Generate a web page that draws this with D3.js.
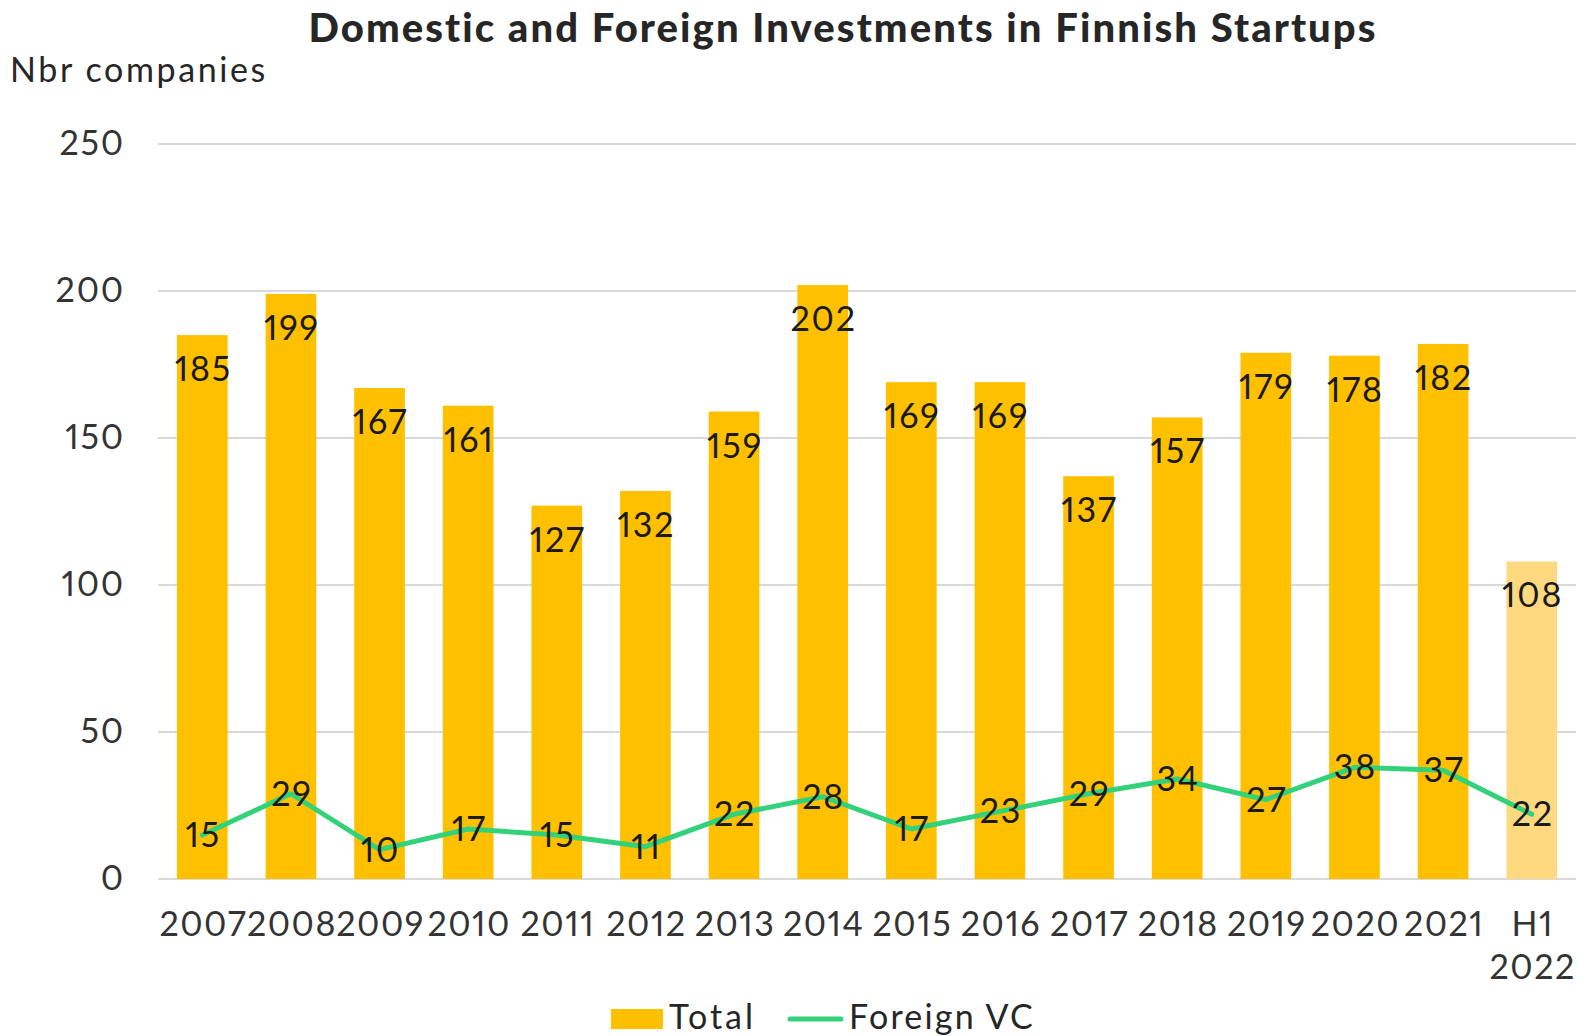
<!DOCTYPE html>
<html>
<head>
<meta charset="utf-8">
<script src="https://cdn.jsdelivr.net/npm/d3@7"></script>
<style>
  body { margin: 0; background: #fff; }
  svg { display: block; font-family: Lato, sans-serif; font-variant-numeric: proportional-nums; }
</style>
</head>
<body>
<svg id="chart" width="1578" height="1036"></svg>
<script>
// values
const years = ['2007', '2008', '2009', '2010', '2011', '2012', '2013', '2014', '2015', '2016', '2017', '2018', '2019', '2020', '2021', 'H1 2022']
const total = [185, 199, 167, 161, 127, 132, 159, 202, 169, 169, 137, 157, 179, 178, 182, 108]
const foreignVC = [15, 29, 10, 17, 15, 11, 22, 28, 17, 23, 29, 34, 27, 38, 37, 22]
const yTicks = [0, 50, 100, 150, 200, 250]

const svg = d3.select('#chart')
const plotLeft = 158, plotRight = 1576, plotTop = 144, plotBottom = 879
const spacing = '1.8px'

const x = d3.scaleBand().domain(years).range([plotLeft, plotRight]).paddingInner(0.428).paddingOuter(0.214)
const y = d3.scaleLinear().domain([0, 250]).range([plotBottom, plotTop])

// title + axis title
svg.append('text')
  .attr('x', 843).attr('y', 42)
  .attr('text-anchor', 'middle')
  .style('font-size', '40px').style('font-weight', '900')
  .style('letter-spacing', '2.1px')
  .style('fill', '#262626')
  .text('Domestic and Foreign Investments in Finnish Startups')

svg.append('text')
  .attr('x', 10).attr('y', 82)
  .style('font-size', '34px')
  .style('letter-spacing', '2.6px')
  .style('fill', '#262626')
  .text('Nbr companies')

// gridlines
svg.append('g').selectAll('line')
  .data(yTicks)
  .join('line')
  .attr('x1', plotLeft).attr('x2', plotRight)
  .attr('y1', d => y(d)).attr('y2', d => y(d))
  .style('stroke', '#d9d9d9').style('stroke-width', 2)

// y axis labels
const yAxis = svg.append('g')
  .attr('transform', `translate(${plotLeft},0)`)
  .call(d3.axisLeft(y).tickValues(yTicks).tickSize(0).tickPadding(33))
yAxis.select('.domain').remove()
yAxis.selectAll('text')
  .style('font-size', '34px').style('font-family', 'Lato, sans-serif')
  .style('letter-spacing', spacing)
  .style('fill', '#333')

// bars
svg.append('g').selectAll('rect')
  .data(total)
  .join('rect')
  .attr('x', (d, i) => x(years[i]))
  .attr('y', d => y(d))
  .attr('width', x.bandwidth())
  .attr('height', d => plotBottom - y(d))
  .style('fill', (d, i) => i === years.length - 1 ? '#ffd97f' : '#ffc000')

// line
const cx = i => x(years[i]) + x.bandwidth() / 2
svg.append('path')
  .datum(foreignVC)
  .attr('d', d3.line().x((d, i) => cx(i)).y(d => y(d)))
  .style('fill', 'none')
  .style('stroke', '#33d17a')
  .style('stroke-width', 5)
  .style('stroke-linejoin', 'round')
  .style('stroke-linecap', 'round')

// bar labels
svg.append('g').selectAll('text')
  .data(total)
  .join('text')
  .attr('x', (d, i) => cx(i) + 1)
  .attr('y', d => y(d) + 46)
  .attr('text-anchor', 'middle')
  .style('font-size', '34px')
  .style('letter-spacing', spacing)
  .style('fill', '#1a1a1a')
  .text(d => d)

// line labels
svg.append('g').selectAll('text')
  .data(foreignVC)
  .join('text')
  .attr('x', (d, i) => cx(i) + 1)
  .attr('y', d => y(d) + 12)
  .attr('text-anchor', 'middle')
  .style('font-size', '34px')
  .style('letter-spacing', spacing)
  .style('fill', '#1a1a1a')
  .text(d => d)

// x labels
svg.append('g').selectAll('text')
  .data(years)
  .join('text')
  .attr('y', 936)
  .attr('text-anchor', 'middle')
  .style('font-size', '34px')
  .style('letter-spacing', '1.5px')
  .style('fill', '#333')
  .each(function(d) {
    const parts = d.split(' ')
    d3.select(this).selectAll('tspan')
      .data(parts)
      .join('tspan')
      .attr('x', x(d) + x.bandwidth() / 2 + 1)
      .attr('dy', (p, j) => j === 0 ? 0 : 43)
      .text(p => p)
  })

// legend
const legend = svg.append('g')
legend.append('rect')
  .attr('x', 611).attr('y', 1009).attr('width', 52).attr('height', 20)
  .style('fill', '#ffc000')
legend.append('text')
  .attr('x', 669).attr('y', 1029)
  .style('font-size', '34px').style('fill', '#262626')
  .style('letter-spacing', '3px')
  .text('Total')
legend.append('line')
  .attr('x1', 790).attr('x2', 841).attr('y1', 1019).attr('y2', 1019)
  .style('stroke', '#33d17a').style('stroke-width', 5).style('stroke-linecap', 'round')
legend.append('text')
  .attr('x', 849).attr('y', 1029)
  .style('font-size', '34px').style('fill', '#262626')
  .style('letter-spacing', '2.2px')
  .text('Foreign VC')
</script>
</body>
</html>
